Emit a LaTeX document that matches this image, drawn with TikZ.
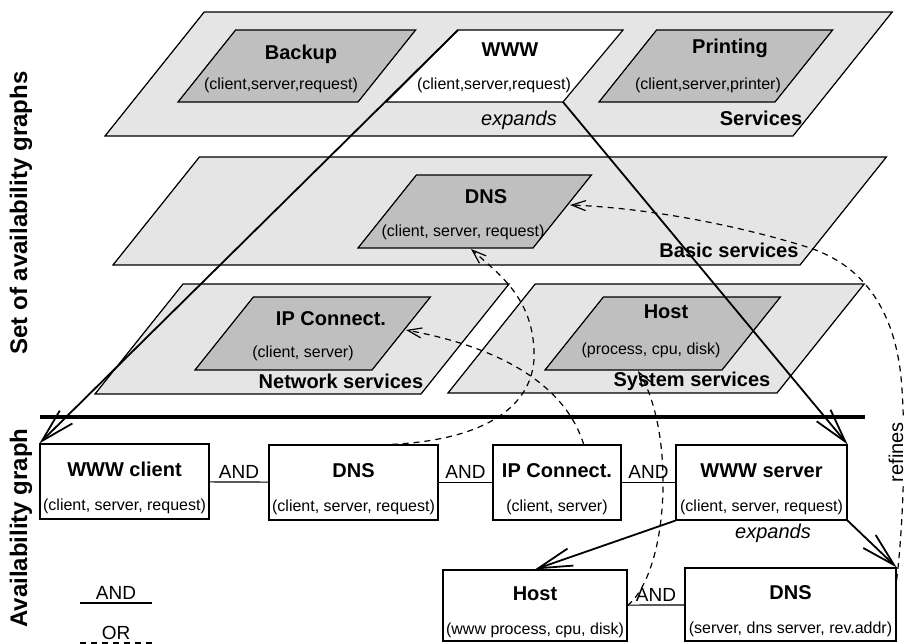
\documentclass[tikz,border=0pt]{standalone}
\usepackage{fontspec}
\setmainfont{Liberation Sans}
\usetikzlibrary{arrows.meta}
\def\plane[#1](#2,#3)(#4,#5){\draw[#1] (#2,#3) -- ++(#4,0) -- ++({0.8*#5},{-#5}) -- ++({-#4},0) -- cycle;}
\def\celltitle{\fontsize{10}{12}\selectfont\bfseries}
\def\cellargs{\fontsize{8}{10}\selectfont}
\tikzset{
	svcplane/.style={line width=0.6pt, fill=black!10},
	svccell/.style={line width=0.6pt, fill=black!25},
	compbox/.style={draw, line width=0.6pt, fill=white, inner sep=1pt, align=center, font=\cellargs},
	andtag/.style={above, inner sep=1.5pt, font=\fontsize{9.5}{11}\selectfont},
	expandarrow/.style={line width=0.9pt, -{Straight Barb[length=17pt,width=9pt]}},
	refinearrow/.style={line width=0.6pt, dash pattern=on 3pt off 2.5pt, -{Straight Barb[length=7pt,width=5pt]}},
}

\begin{document}
\begin{tikzpicture}[x=0.5pt, y=-0.5pt]
			%%%%% START %%%%%
			\useasboundingbox (0,0) rectangle (907,644);
			
			\node[rotate=90, font=\fontsize{12}{14}\selectfont\bfseries] (setlbl) at (21,213) {Set of availability graphs};
			\node[rotate=90, font=\fontsize{12}{14}\selectfont\bfseries] (aglbl) at (21,528) {Availability graph};
			
			% services
			\plane[svcplane](105,136)(688,124)
			\plane[svccell](178,102)(180,72)
			\plane[svccell](599,102)(176,72)
			\coordinate (wwwtl) at (458,30);
			\coordinate (wwwbr) at (563,102);
			\draw[svcplane, fill=white] (wwwtl) -- (623,30) -- (wwwbr) -- (386,102) -- cycle;
			\node[font=\celltitle] (backup) at (301,54) {Backup};
			\node[font=\cellargs] (backupargs) at (281,85) {(client,server,request)};
			\node[font=\celltitle] (www) at (510,50) {WWW};
			\node[font=\cellargs] (wwwargs) at (494,85) {(client,server,request)};
			\node[font=\celltitle] (printing) at (730,48) {Printing};
			\node[font=\cellargs] (printargs) at (708,85) {(client,server,printer)};
			\node[font=\fontsize{10}{12}\selectfont\itshape] (expup) at (519,120) {expands};
			\node[font=\celltitle] (services) at (761,118) {Services};
			
			% basic services
			\plane[svcplane](113,265)(687,108)
			\plane[svccell](358,248)(175,73)
			\node[font=\celltitle] (dnst) at (486,197) {DNS};
			\node[font=\cellargs] (dnsargs) at (463,232) {(client, server, request)};
			\node[font=\celltitle] (basic) at (729,250) {Basic services};
			\coordinate (dnsfoot) at (471,249);
			\coordinate (dnsside) at (570,205);
			
			% network and system services
			\plane[svcplane](95,394)(326,110)
			\plane[svccell](195,370)(177,73)
			\node[font=\celltitle] (ipt) at (331,319) {IP Connect.};
			\node[font=\cellargs] (ipargs) at (303,353) {(client, server)};
			\node[font=\celltitle] (netw) at (341,381) {Network services};
			\coordinate (ipside) at (406,330);
			
			\plane[svcplane](448,393)(329,109)
			\plane[svccell](545,370)(177,73)
			\node[font=\celltitle] (hostt) at (666,312) {Host};
			\node[font=\cellargs] (hostargs) at (651,350) {(process, cpu, disk)};
			\node[font=\celltitle] (sys) at (692,381) {System services};
			\coordinate (hostfoot) at (638,371);
			
			\draw[line width=2.4pt] (40,417) -- (865,417);
			
			% availability graph
			\node[compbox, minimum width=84.5pt, minimum height=37.5pt] (wwwc) at (124.5,481.5) {{\celltitle\rule{0pt}{14pt}WWW client}\\[7pt](client, server, request)};
			\node[compbox, minimum width=84.5pt, minimum height=37.5pt] (dnsc) at (353.5,482.5) {{\celltitle\rule{0pt}{14pt}DNS}\\[7pt](client, server, request)};
			\node[compbox, minimum width=64pt, minimum height=37.5pt] (ipc) at (557,482.5) {{\celltitle\rule{0pt}{14pt}IP Connect.}\\[7pt](client, server)};
			\node[compbox, minimum width=85.5pt, minimum height=37.5pt] (wwws) at (761.5,482.5) {{\celltitle\rule{0pt}{14pt}WWW server}\\[7pt](client, server, request)};
			\node[compbox, minimum width=92pt, minimum height=35.5pt] (hostb) at (535,605.5) {{\celltitle\rule{0pt}{14pt}Host}\\[7pt](www process, cpu, disk)};
			\node[compbox, minimum width=105.5pt, minimum height=36.5pt] (dnsb) at (790.5,604.5) {{\celltitle\rule{0pt}{14pt}DNS}\\[7pt](server, dns server, rev.addr)};
			
			\draw[line width=0.6pt] (wwwc) -- node[andtag] (and1) {AND} (dnsc);
			\draw[line width=0.6pt] (dnsc) -- node[andtag] (and2) {AND} (ipc);
			\draw[line width=0.6pt] (ipc) -- node[andtag] (and3) {AND} (wwws);
			\draw[line width=0.6pt] (hostb) -- node[andtag] (and4) {AND} (dnsb);
			\node[font=\fontsize{10}{12}\selectfont\itshape] (expdn) at (773,533) {expands};
			
			% expands
			\draw[expandarrow] (wwwtl) -- (wwwc.north west);
			\draw[expandarrow] (wwwbr) -- (wwws.north east);
			\draw[expandarrow] (wwws.south west) -- (hostb.north);
			\draw[expandarrow] (wwws.south east) -- (dnsb.north east);
			
			% refines
			\draw[refinearrow] (dnsc.45) .. controls (480,440) and (530,410) .. (534,360) .. controls (536,300) and (500,275) .. (dnsfoot);
			\draw[refinearrow] (ipc.55) .. controls (570,400) and (525,352) .. (ipside);
			\draw[refinearrow] (hostb.east) .. controls (670,570) and (675,430) .. (hostfoot);
			\draw[refinearrow] (dnsb.13) .. controls (904,520) and (906,430) .. (901,377) .. controls (893,300) and (855,262) .. (807,247) .. controls (740,226) and (650,208) .. (dnsside);
			\node[rotate=90, fill=white, inner sep=1pt, font=\fontsize{10}{12}\selectfont] (refl) at (896,452) {refines};
			
			% legend
			\draw[line width=0.6pt] (80,603) -- node[andtag] (legand) {AND} (152,603);
			\draw[line width=0.6pt, dash pattern=on 3pt off 2.5pt] (80,643) -- node[andtag] (legor) {OR} (152,643);
			%%%%% END %%%%%
\end{tikzpicture}
\end{document}
